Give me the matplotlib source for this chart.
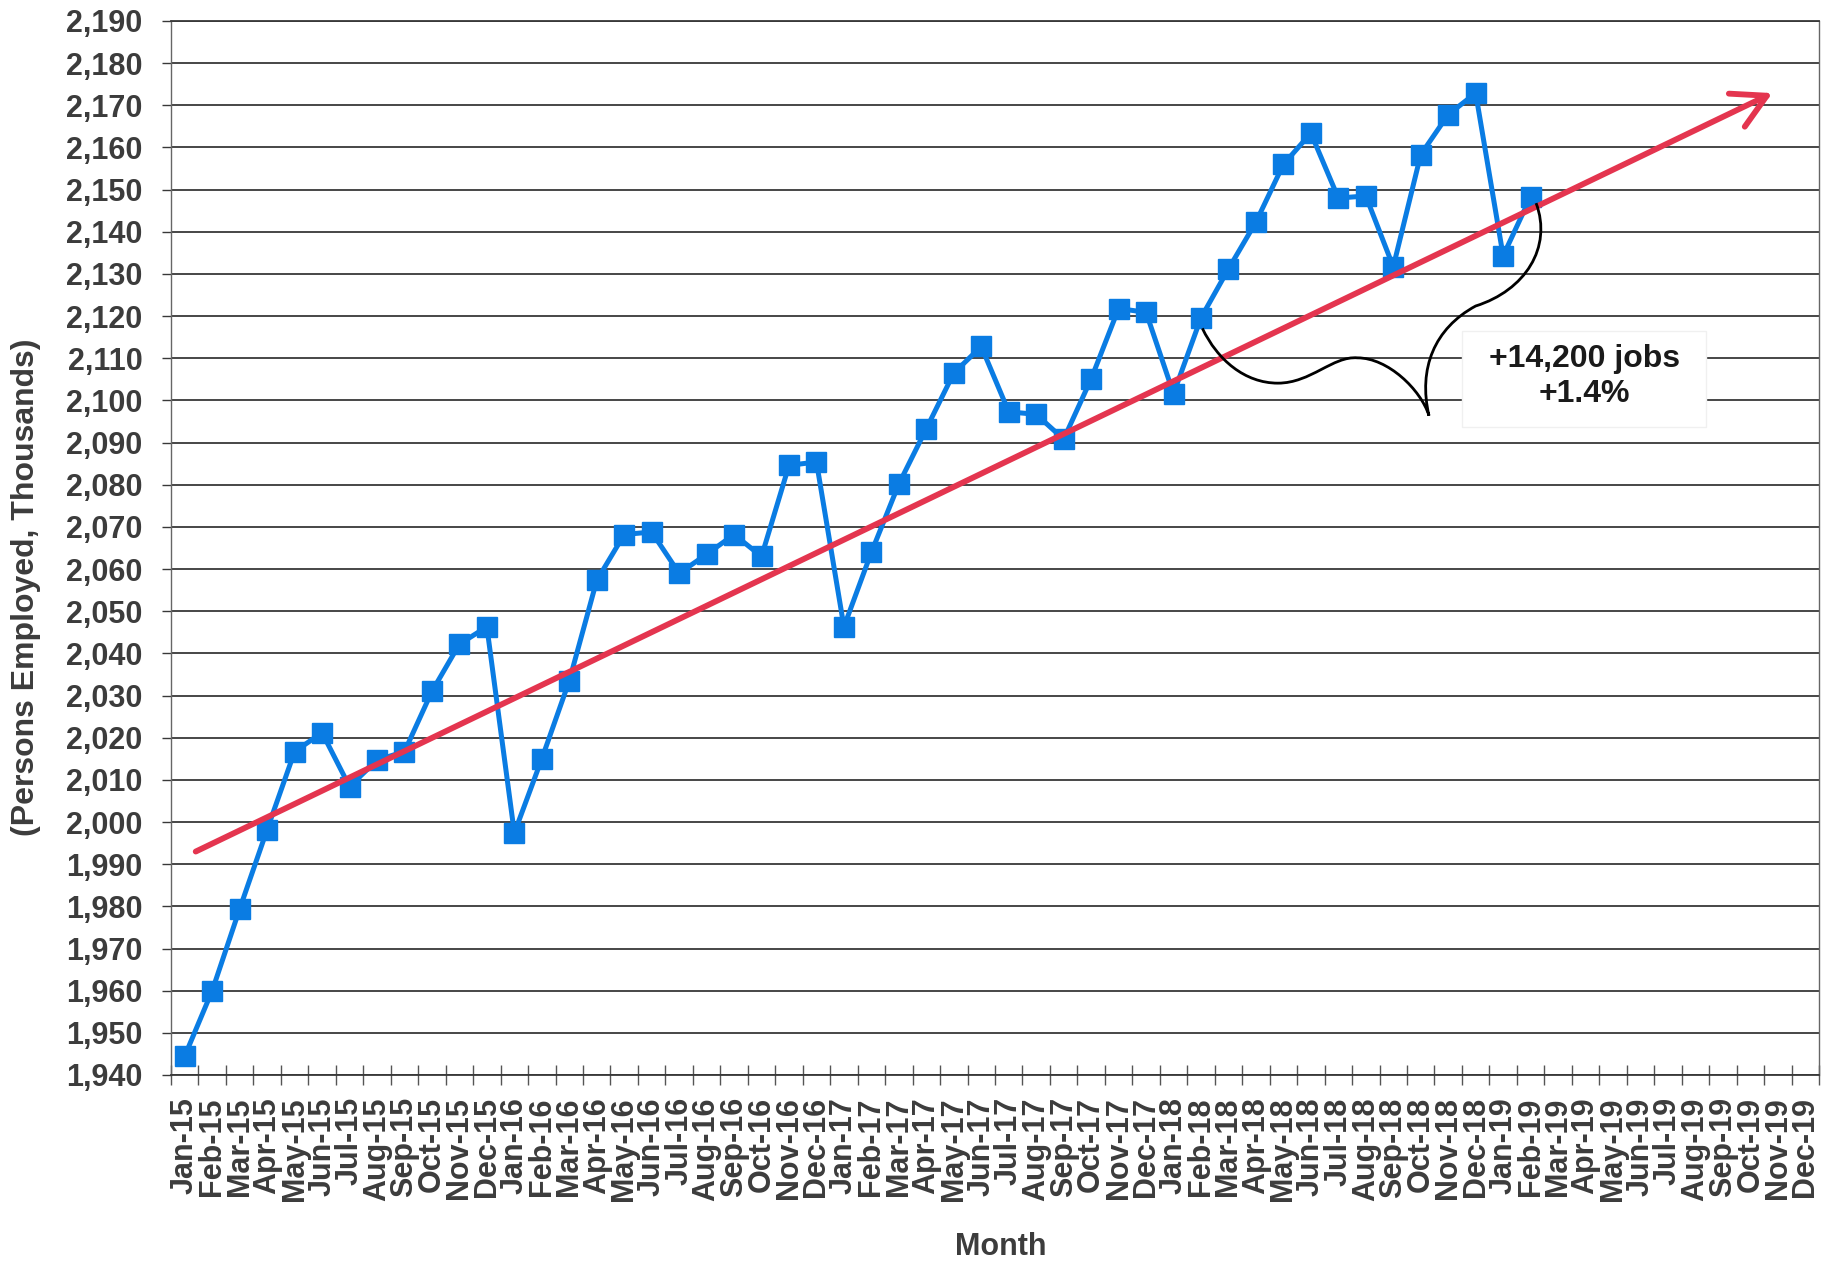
import matplotlib
matplotlib.use("Agg")
import matplotlib.pyplot as plt
from matplotlib.path import Path
from matplotlib.patches import PathPatch, FancyArrowPatch, Rectangle
import numpy as np

plt.rcParams['font.family'] = ['Liberation Sans', 'DejaVu Sans']

# Month categories shown on the axis
months = [f"{m}-{y}" for y in range(15, 20)
          for m in ["Jan", "Feb", "Mar", "Apr", "May", "Jun",
                    "Jul", "Aug", "Sep", "Oct", "Nov", "Dec"]]

# Persons employed (thousands), Jan-15 .. Feb-19
employed = [1944.5, 1960.0, 1979.4, 1998.2, 2016.7, 2021.2, 2008.4, 2014.7,
            2016.7, 2031.0, 2042.2, 2046.3,
            1997.4, 2015.0, 2033.5, 2057.3, 2068.2, 2068.8, 2059.0, 2063.5,
            2068.2, 2063.0, 2084.6, 2085.4,
            2046.3, 2064.0, 2080.2, 2093.3, 2106.5, 2112.8, 2097.3, 2096.7,
            2090.8, 2105.1, 2121.8, 2120.9,
            2101.6, 2119.6, 2131.2, 2142.3, 2156.0, 2163.4, 2148.0, 2148.5,
            2131.7, 2158.3, 2167.8, 2172.9,
            2134.3, 2148.3]

# Trend arrow (start and end in category index / value)
trend_x = [0.4, 57.8]
trend_y = [1993.0, 2172.9]

# Growth call-out
callout_lines = ["+14,200 jobs", "+1.4%"]

y_ticks = list(range(1940, 2191, 10))

fig = plt.figure(figsize=(18.36, 12.64), dpi=100)
ax = fig.add_axes([0.09314, 0.14953, 0.89760, 0.83386])

grid_col = "#383838"
text_col = "#3c3c3c"

ax.set_xlim(-0.5, len(months) - 0.5)
ax.set_ylim(1940, 2190)

# horizontal grid
ax.set_yticks(y_ticks)
ax.set_yticklabels([f"{v:,}" for v in y_ticks], fontsize=22,
                   fontweight="bold", color=text_col)
ax.yaxis.grid(True, color=grid_col, linewidth=1.3, zorder=0)
ax.set_axisbelow(True)
ax.tick_params(axis="y", length=6.5, width=1.0, color=grid_col, pad=14)

# month labels centred between boundary ticks
ax.set_xticks(np.arange(len(months)))
ax.set_xticklabels(months, rotation=90, fontsize=22, fontweight="bold",
                   color=text_col, va="top", ha="center")
ax.tick_params(axis="x", which="major", length=0, pad=16)
ax.set_xticks(np.arange(len(months) + 1) - 0.5, minor=True)
ax.tick_params(axis="x", which="minor", direction="inout", length=14.5,
               width=1.0, color="#555555")

for side in ["left", "right"]:
    ax.spines[side].set_color("#666666")
    ax.spines[side].set_linewidth(1.0)
ax.spines["bottom"].set_color(grid_col)
ax.spines["bottom"].set_linewidth(1.3)
ax.spines["top"].set_color(grid_col)
ax.spines["top"].set_linewidth(1.3)

# employment series
xs = np.arange(len(employed))
ax.plot(xs, employed, color="#0a7ce3", linewidth=3.6, marker="s",
        markersize=15, markeredgecolor="#0a7ce3", markerfacecolor="#0a7ce3",
        zorder=3, solid_joinstyle="miter")

# trend arrow
arrow = FancyArrowPatch((trend_x[0], trend_y[0]), (trend_x[1], trend_y[1]),
                        arrowstyle="->,head_length=0.6,head_width=0.33",
                        mutation_scale=40, color="#e4354f", linewidth=4.2,
                        zorder=4, shrinkA=0, shrinkB=0)
ax.add_patch(arrow)

# brace linking Feb-18 to Feb-19
i0, i1 = 37, 49
v0, v1 = employed[i0], employed[i1]
brace_verts = [
    (i0 + 0.05, v0 - 2.5),
    (i0 + 0.6, v0 - 10), (i0 + 1.6, v0 - 15.5), (i0 + 2.8, v0 - 15.5),
    (i0 + 4.0, v0 - 15.5), (i0 + 4.8, v0 - 9), (i0 + 5.7, v0 - 9.5),
    (i0 + 6.8, v0 - 9.5), (i0 + 8.0, v0 - 17), (i0 + 8.3, v0 - 23.2),
    (i0 + 7.9, v0 - 12), (i0 + 8.5, v0 - 2.5), (i0 + 10.0, v0 + 2.8),
    (i0 + 11.8, v0 + 6.5), (i1 + 0.8, v1 - 12), (i1 + 0.2, v1 - 1.5),
]
brace_codes = [Path.MOVETO] + [Path.CURVE4] * (len(brace_verts) - 1)
ax.add_patch(PathPatch(Path(brace_verts, brace_codes), facecolor="none",
                       edgecolor="black", linewidth=2.0, zorder=5))

# call-out box
box_x0, box_x1 = 46.5, 55.4
box_y0, box_y1 = 2093.7, 2116.5
ax.add_patch(Rectangle((box_x0, box_y0), box_x1 - box_x0, box_y1 - box_y0,
                       facecolor="white", edgecolor="#f0f0f0", linewidth=1.0,
                       zorder=2))
ax.text((box_x0 + box_x1) / 2, (box_y0 + box_y1) / 2 + 0.6,
        "\n".join(callout_lines), ha="center", va="center", fontsize=23,
        fontweight="bold", color="#1a1a1a", linespacing=1.25, zorder=6)

fig.text(0.0142, 0.5356, "(Persons Employed, Thousands)", rotation=90,
         ha="center", va="center", fontsize=23, fontweight="bold",
         color=text_col)
fig.text(0.545, 0.0134, "Month", ha="center", va="center", fontsize=22,
         fontweight="bold", color=text_col)

fig.savefig("out.png", dpi=100, facecolor="white")
